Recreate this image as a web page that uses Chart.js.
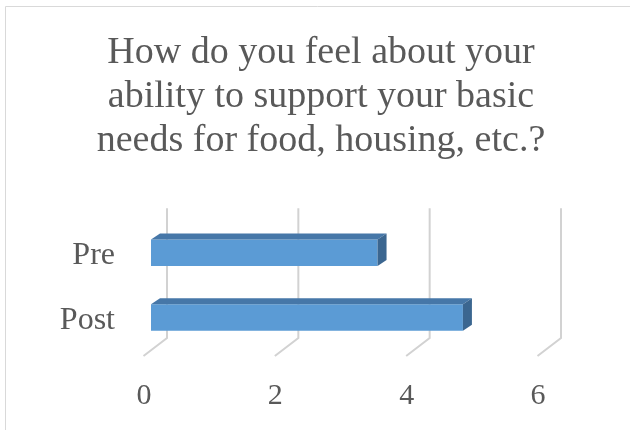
<!DOCTYPE html>
<html>
<head>
<meta charset="utf-8">
<script src="https://cdn.jsdelivr.net/npm/chart.js@4"></script>
<style>
    html, body { margin: 0; padding: 0; background: #ffffff; }
    #chartBox { width: 630px; height: 430px; }
</style>
</head>
<body>
<div id="chartBox"><canvas id="feelChart"></canvas></div>
<script>
const categories = ["Pre", "Post"];
const scores = [3.45, 4.75];
const xTicks = [0, 2, 4, 6];
const titleLines = ["How do you feel about your", "ability to support your basic", "needs for food, housing, etc.?"];

const textColor = "#595959";
const gridColor = "#d2d2d2";
const frontColor = "#5b9bd5";
const topColor = "#4677a8";
const sideColor = "#3b6690";

// fake 3D depth, in pixels
const barDepth = { dx: 9, dy: 6 };
const wallDepth = { dx: 16, dy: 12 };
const floorFront = { dx: -7.5, dy: 6 };

const frameLines = {
    id: "frameLines",
    beforeDraw(chart) {
        const ctx = chart.ctx;
        ctx.save();
        ctx.strokeStyle = "#d9d9d9";
        ctx.lineWidth = 1;
        ctx.beginPath();
        ctx.moveTo(5.5, chart.height);
        ctx.lineTo(5.5, 6.5);
        ctx.lineTo(chart.width, 6.5);
        ctx.stroke();
        ctx.restore();
    }
};

const wallGrid = {
    id: "wallGrid",
    beforeDatasetsDraw(chart) {
        const ctx = chart.ctx;
        const xScale = chart.scales.x;
        const area = chart.chartArea;
        ctx.save();
        ctx.strokeStyle = gridColor;
        ctx.lineWidth = 2;
        xScale.ticks.forEach(tick => {
            const px = xScale.getPixelForValue(tick.value);
            ctx.beginPath();
            ctx.moveTo(px + wallDepth.dx, area.top - wallDepth.dy);
            ctx.lineTo(px + wallDepth.dx, area.bottom - wallDepth.dy);
            ctx.lineTo(px + floorFront.dx, area.bottom + floorFront.dy);
            ctx.stroke();
        });
        ctx.restore();
    }
};

const barFaces = {
    id: "barFaces",
    afterDatasetsDraw(chart) {
        const ctx = chart.ctx;
        const meta = chart.getDatasetMeta(0);
        ctx.save();
        meta.data.forEach(bar => {
            const p = bar.getProps(["x", "y", "base", "height"], true);
            const top = p.y - p.height / 2;
            const bottom = p.y + p.height / 2;

            ctx.fillStyle = topColor;
            ctx.beginPath();
            ctx.moveTo(p.base, top);
            ctx.lineTo(p.base + barDepth.dx, top - barDepth.dy);
            ctx.lineTo(p.x + barDepth.dx, top - barDepth.dy);
            ctx.lineTo(p.x, top);
            ctx.closePath();
            ctx.fill();

            ctx.fillStyle = sideColor;
            ctx.beginPath();
            ctx.moveTo(p.x, top);
            ctx.lineTo(p.x + barDepth.dx, top - barDepth.dy);
            ctx.lineTo(p.x + barDepth.dx, bottom - barDepth.dy);
            ctx.lineTo(p.x, bottom);
            ctx.closePath();
            ctx.fill();
        });
        ctx.restore();
    }
};

new Chart(document.getElementById("feelChart"), {
    type: "bar",
    data: {
        labels: categories,
        datasets: [{
            data: scores,
            backgroundColor: frontColor,
            borderWidth: 0,
            barPercentage: 0.41,
            categoryPercentage: 1
        }]
    },
    options: {
        indexAxis: "y",
        responsive: true,
        maintainAspectRatio: false,
        animation: false,
        layout: { padding: { left: 12, right: 0, top: 0, bottom: 0 } },
        plugins: {
            legend: { display: false },
            tooltip: { enabled: false },
            title: {
                display: true,
                text: titleLines,
                color: textColor,
                font: { family: "Liberation Serif", size: 38, weight: "normal", lineHeight: 1.16 },
                padding: { top: 31, bottom: 57 }
            }
        },
        scales: {
            x: {
                min: 0,
                max: 6,
                afterBuildTicks: scale => {
                    scale.ticks = xTicks.map(v => ({ value: v }));
                },
                grid: { display: false, drawTicks: false },
                border: { display: false },
                ticks: {
                    color: textColor,
                    font: { family: "Liberation Serif", size: 30 },
                    padding: 28,
                    labelOffset: -7
                },
                afterFit: scale => { scale.height = 80; }
            },
            y: {
                grid: { display: false, drawTicks: false },
                border: { display: false },
                ticks: {
                    color: textColor,
                    font: { family: "Liberation Serif", size: 32 },
                    padding: 36,
                    labelOffset: 3
                },
                afterFit: scale => { scale.width = 139; }
            },
            yRight: {
                position: "right",
                grid: { display: false, drawTicks: false },
                border: { display: false },
                ticks: { display: false },
                afterFit: scale => { scale.width = 85; }
            }
        }
    },
    plugins: [frameLines, wallGrid, barFaces]
});
</script>
</body>
</html>
